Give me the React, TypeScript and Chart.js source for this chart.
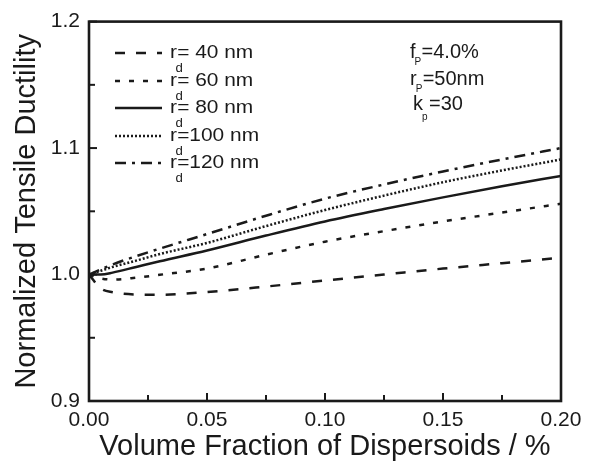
import React, { useEffect, useRef } from 'react';
import { Chart, registerables } from 'chart.js';

Chart.register(...registerables);

// ---- data ----
const xValues = [0, 0.005, 0.01, 0.02, 0.03, 0.05, 0.075, 0.1, 0.125, 0.15, 0.175, 0.2];
const rd40 = [1.0, 0.989, 0.986, 0.9842, 0.9840, 0.9862, 0.9905, 0.9953, 1.0, 1.0047, 1.009, 1.0133];
const rd60 = [1.0, 0.997, 0.996, 0.9975, 0.9998, 1.0047, 1.0157, 1.026, 1.0343, 1.042, 1.049, 1.056];
const rd80 = [1.0, 1.0, 1.0015, 1.006, 1.0105, 1.019, 1.0308, 1.042, 1.0518, 1.061, 1.0698, 1.078];
const rd100 = [1.0, 1.003, 1.006, 1.011, 1.0162, 1.025, 1.0383, 1.051, 1.0624, 1.073, 1.0823, 1.091];
const rd120 = [1.0, 1.004, 1.008, 1.0145, 1.0205, 1.032, 1.0465, 1.060, 1.0712, 1.0815, 1.091, 1.100];

const seriesNames = ['= 40 nm', '= 60 nm', '= 80 nm', '=100 nm', '=120 nm'];
const seriesDashes: number[][] = [[10, 11], [5, 9], [], [2, 2], [11, 6, 3, 6]];
const annotationLines = [
  { main: 'f', sub: 'P', rest: '=4.0%' },
  { main: 'r', sub: 'P', rest: '=50nm' },
  { main: 'k', sub: 'p', rest: '=30' },
];

const xTitle = 'Volume Fraction of Dispersoids / %';
const yTitle = 'Normalized Tensile Ductility';

const FONT = '"Liberation Sans", Arial, Helvetica, sans-serif';
const INK = '#1a1a1a';

const decorPlugin = {
  id: 'decor',
  afterDraw(chart: any) {
    const { ctx, chartArea } = chart;
    const xs = chart.scales.x;
    const ys = chart.scales.y;
    ctx.save();
    ctx.strokeStyle = INK;
    ctx.fillStyle = INK;
    ctx.setLineDash([]);

    // inward tick marks
    ctx.lineWidth = 2;
    for (let i = 0; i <= 8; i++) {
      const v = i * 0.025;
      const px = xs.getPixelForValue(v);
      const len = i % 2 === 0 ? 8 : 6;
      ctx.beginPath();
      ctx.moveTo(px, chartArea.bottom);
      ctx.lineTo(px, chartArea.bottom - len);
      ctx.stroke();
    }
    for (let i = 0; i <= 6; i++) {
      const v = 0.9 + i * 0.05;
      const py = ys.getPixelForValue(v);
      const len = i % 2 === 0 ? 8 : 6;
      ctx.beginPath();
      ctx.moveTo(chartArea.left, py);
      ctx.lineTo(chartArea.left + len, py);
      ctx.stroke();
    }

    // frame
    ctx.lineWidth = 2.6;
    ctx.strokeRect(chartArea.left, chartArea.top, chartArea.right - chartArea.left, chartArea.bottom - chartArea.top);

    // legend
    const rowY = [53, 81, 108, 136, 163];
    chart.data.datasets.forEach((ds: any, i: number) => {
      const y = rowY[i];
      ctx.lineWidth = 2.5;
      ctx.setLineDash(seriesDashes[i]);
      ctx.beginPath();
      ctx.moveTo(115, y);
      ctx.lineTo(162, y);
      ctx.stroke();
      ctx.setLineDash([]);
      ctx.textBaseline = 'alphabetic';
      ctx.textAlign = 'left';
      ctx.save();
      ctx.translate(170, y + 5);
      ctx.scale(1.1, 1);
      ctx.font = `19px ${FONT}`;
      ctx.fillText('r', 0, 0);
      ctx.fillText(seriesNames[i], 6.5, 0);
      ctx.font = `12px ${FONT}`;
      ctx.fillText('d', 5, 14);
      ctx.restore();
    });

    // annotation
    const annX = [410, 410, 413];
    const annY = [58, 85, 110];
    const subDy = [7, 7, 10];
    annotationLines.forEach((a, i) => {
      ctx.font = `20px ${FONT}`;
      const w = ctx.measureText(a.main).width;
      ctx.fillText(a.main, annX[i], annY[i]);
      ctx.fillText(a.rest, annX[i] + w + 6, annY[i]);
      ctx.font = `10px ${FONT}`;
      ctx.fillText(a.sub, annX[i] + w - 1, annY[i] + subDy[i]);
    });
    ctx.restore();
  },
};

export default function App() {
  const ref = useRef<HTMLCanvasElement | null>(null);
  useEffect(() => {
    document.body.style.margin = '0';
    const canvas = ref.current;
    if (!canvas) return;
    const all = [rd40, rd60, rd80, rd100, rd120];
    const chart = new Chart(canvas, {
      type: 'line',
      data: {
        datasets: all.map((vals, i) => ({
          label: 'r_d' + seriesNames[i],
          data: xValues.map((x, j) => ({ x, y: vals[j] })),
          borderColor: INK,
          borderWidth: 2.5,
          borderDash: seriesDashes[i],
          pointRadius: 0,
          fill: false,
          cubicInterpolationMode: 'monotone' as const,
        })),
      },
      options: {
        animation: false,
        responsive: false,
        devicePixelRatio: 1,
        layout: { padding: { top: 17, right: 32, left: 0, bottom: 0 } },
        plugins: { legend: { display: false }, tooltip: { enabled: false } },
        scales: {
          x: {
            type: 'linear',
            min: 0,
            max: 0.2,
            grid: { display: false, drawTicks: false },
            border: { display: false },
            ticks: {
              stepSize: 0.05,
              color: INK,
              padding: 7,
              maxRotation: 0,
              font: { family: FONT, size: 21 },
              callback: (v: any) => Number(v).toFixed(2),
            },
            title: {
              display: true,
              text: xTitle,
              color: INK,
              font: { family: FONT, size: 29 },
              padding: { top: 0, bottom: 0 },
            },
            afterFit: (s: any) => {
              s.height = 63;
            },
          },
          y: {
            type: 'linear',
            min: 0.9,
            max: 1.2,
            grid: { display: false, drawTicks: false },
            border: { display: false },
            ticks: {
              stepSize: 0.1,
              color: INK,
              padding: 9,
              font: { family: FONT, size: 21 },
              callback: (v: any) => Number(v).toFixed(1),
            },
            title: {
              display: true,
              text: yTitle,
              color: INK,
              font: { family: FONT, size: 29 },
              padding: { top: 10, bottom: 0 },
            },
            afterFit: (s: any) => {
              s.width = 89;
            },
          },
        },
      },
      plugins: [decorPlugin],
    });
    return () => chart.destroy();
  }, []);
  return (
    <div style={{ width: 593, height: 464 }}>
      <canvas ref={ref} width={593} height={464} />
    </div>
  );
}
